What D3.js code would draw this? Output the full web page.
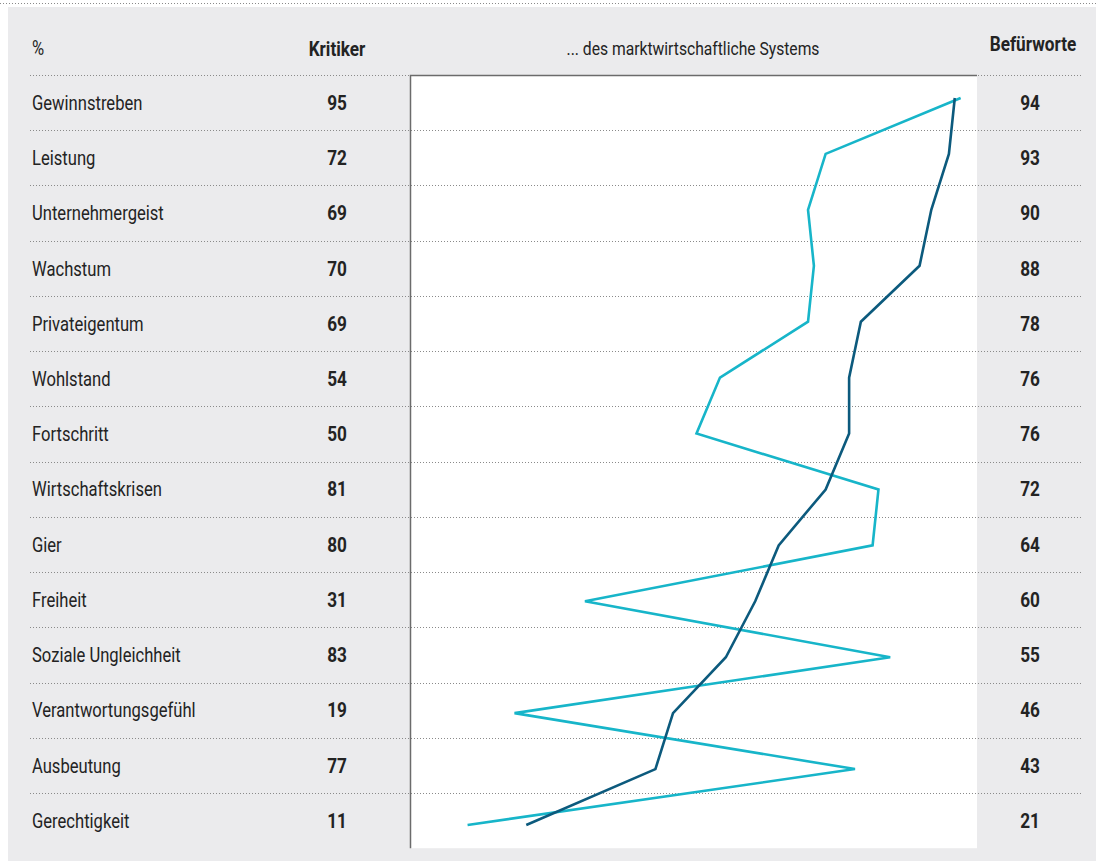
<!DOCTYPE html>
<html lang="de">
<head>
<meta charset="utf-8">
<script src="https://cdn.jsdelivr.net/npm/d3@7"></script>
<style>
  html, body { margin: 0; padding: 0; background: #ffffff; }
  svg { display: block; }
  text {
    font-family: Roboto, "Liberation Sans", sans-serif;
    fill: #232323;
  }
</style>
</head>
<body>
<svg id="chart" width="1096" height="861"></svg>
<script>
// Begriffe, die mit dem marktwirtschaftlichen System verbunden werden (in %)
const categories = [
  "Gewinnstreben", "Leistung", "Unternehmergeist", "Wachstum", "Privateigentum",
  "Wohlstand", "Fortschritt", "Wirtschaftskrisen", "Gier", "Freiheit",
  "Soziale Ungleichheit", "Verantwortungsgefühl", "Ausbeutung", "Gerechtigkeit"
];
const kritiker     = [95, 72, 69, 70, 69, 54, 50, 81, 80, 31, 83, 19, 77, 11];
const befuerworter = [94, 93, 90, 88, 78, 76, 76, 72, 64, 60, 55, 46, 43, 21];

const headerUnit = "%";
const headerLeft = "Kritiker";
const headerMid = "... des marktwirtschaftliche Systems";
const headerRight = "Befürworte";

const colorKritiker = "#17b5c9";
const colorBefuerworter = "#0c5a7d";

const svg = d3.select("#chart");
const W = 1096, H = 861;
const SX = 0.83;      // horizontal squeeze for a condensed look
const SX_BOLD = 0.86;

// Rows of the table
const rowTop = 75, rowBottom = 848.2;
const y = d3.scaleBand().domain(categories).range([rowTop, rowBottom]);
// Vertical positions of the line vertices
const yLine = d3.scalePoint().domain(categories).range([98, 825]);
// Percentage scale for the two lines
const x = d3.scaleLinear().domain([0, 100]).range([403, 990]);

const panel = { x0: 410, x1: 977, y0: rowTop, y1: rowBottom };
const colLabel = 32, colKritiker = 337, colBefuerworter = 1030;

// Condensed text helper: positions via translate, squeezes horizontally
function label(sel, px, py, str, opts = {}) {
  const sx = opts.sx || (opts.bold ? SX_BOLD : SX);
  return sel.append("text")
    .attr("transform", `translate(${px},${py}) scale(${sx},1)`)
    .attr("dy", "0.36em")
    .attr("text-anchor", opts.anchor || "start")
    .style("font-size", (opts.size || 20) + "px")
    .style("font-weight", opts.bold ? "bold" : "normal")
    .text(str);
}

// Top rule and grey background
svg.append("line")
  .attr("x1", 0).attr("x2", W).attr("y1", 3.5).attr("y2", 3.5)
  .attr("stroke", "#8a8a8a").attr("stroke-width", 1).attr("stroke-dasharray", "1,2");
svg.append("rect")
  .attr("x", 8).attr("y", 7).attr("width", W - 8).attr("height", H - 7)
  .attr("fill", "#ebebed");

// White plot panel
svg.append("rect")
  .attr("x", panel.x0).attr("y", panel.y0)
  .attr("width", panel.x1 - panel.x0).attr("height", panel.y1 - panel.y0)
  .attr("fill", "#ffffff");

// Dotted row dividers (top edge of every row)
svg.append("g")
  .selectAll("line")
  .data(categories.map(c => y(c)))
  .join("line")
  .attr("x1", 30).attr("x2", 1083)
  .attr("y1", d => Math.round(d) + 0.5).attr("y2", d => Math.round(d) + 0.5)
  .attr("stroke", "#8a8a8a").attr("stroke-width", 1).attr("stroke-dasharray", "1,2");

// Panel border: top and left
svg.append("path")
  .attr("d", `M${panel.x0 + 0.5},${panel.y1}V${panel.y0 + 0.5}H${panel.x1}`)
  .attr("fill", "none").attr("stroke", "#6b6b6b").attr("stroke-width", 1.5);

// Header
const header = svg.append("g");
label(header, colLabel, 48, headerUnit);
label(header, colKritiker, 49, headerLeft, { bold: true, anchor: "middle" });
label(header, 693, 49, headerMid, { size: 18, sx: 0.87, anchor: "middle" });
label(header, 1033, 44, headerRight, { bold: true, anchor: "middle" });

// Row labels and values
const rowData = categories.map((c, i) => ({ c, k: kritiker[i], b: befuerworter[i] }));
const rows = svg.append("g");
rowData.forEach(d => {
  const cy = y(d.c) + y.bandwidth() / 2;
  label(rows, colLabel, cy, d.c);
  label(rows, colKritiker, cy, d.k, { bold: true, anchor: "middle" });
  label(rows, colBefuerworter, cy, d.b, { bold: true, anchor: "middle" });
});

// Lines
const line = values => d3.line()
  .x((c, i) => x(values[i]))
  .y(c => yLine(c))(categories);

svg.append("path")
  .attr("d", line(kritiker))
  .attr("fill", "none").attr("stroke", colorKritiker)
  .attr("stroke-width", 2.6).attr("stroke-linejoin", "miter");

svg.append("path")
  .attr("d", line(befuerworter))
  .attr("fill", "none").attr("stroke", colorBefuerworter)
  .attr("stroke-width", 2.6).attr("stroke-linejoin", "miter");
</script>
</body>
</html>
